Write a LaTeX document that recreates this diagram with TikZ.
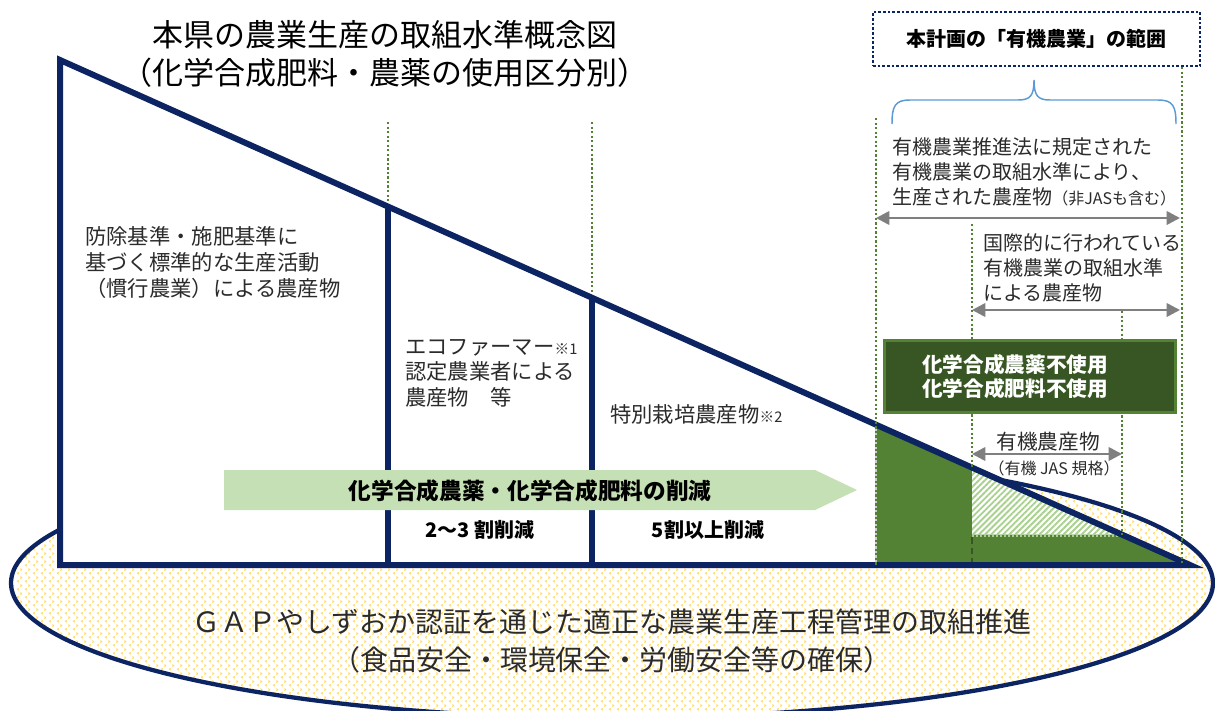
\documentclass[tikz,border=0pt]{standalone}
\usepackage{fontspec}
\setmainfont{Noto Sans CJK JP}
\usetikzlibrary{patterns,patterns.meta,arrows.meta}
\definecolor{navy}{HTML}{0C2462}
\definecolor{lgreen}{HTML}{548235}
\definecolor{dgreen}{HTML}{375623}
\definecolor{pgreen}{HTML}{C5E0B4}
\definecolor{hgreen}{HTML}{A9D18E}
\definecolor{garrow}{HTML}{7F7F7F}
\definecolor{braceblue}{HTML}{5B9BD5}
\definecolor{pyellow}{HTML}{FFD659}
\definecolor{txt}{HTML}{2B2B2B}
\tikzdeclarepattern{
  name=chevrons,
  type=uncolored,
  bottom left={(0pt,0pt)},
  top right={(6pt,6pt)},
  tile size={(6pt,6pt)},
  code={
    \draw[line width=0.75pt] (2.2pt,0.6pt) -- (1.2pt,1.5pt) -- (2.2pt,2.4pt);
    \draw[line width=0.75pt] (3.8pt,3.6pt) -- (4.8pt,4.5pt) -- (3.8pt,5.4pt);
  }
}
\tikzset{
  navyline/.style={navy, line width=4.5pt},
  gdot/.style={lgreen, line width=2pt, dash pattern=on 1.7pt off 1.7pt},
  garr/.style={garrow, line width=2pt, {Triangle[length=10pt,width=10pt]}-{Triangle[length=10pt,width=10pt]}},
  plain/.style={inner sep=0pt, text=txt, font=\fontsize{16}{19.2}\selectfont, align=left, anchor=west},
  rtext/.style={inner sep=0pt, text=txt, font=\fontsize{15}{19}\selectfont, align=left, anchor=west},
  btext/.style={inner sep=0pt, text=black, font=\bfseries\fontsize{15}{18}\selectfont, align=center},
}
\begin{document}
\begin{tikzpicture}[x=0.75pt,y=-0.75pt]
\useasboundingbox (0,0) rectangle (1215,711);
\clip (0,0) rectangle (1215,711);
\fill[white] (0,0) rectangle (1215,711);

% ground ellipse (GAP)
\fill[white] (612,583) ellipse [x radius=601, y radius=135];
\path[pattern={chevrons}, pattern color=pyellow] (612,583) ellipse [x radius=601, y radius=135];
\draw[navy, line width=3.2pt] (612,583) ellipse [x radius=601, y radius=135];

% main triangle
\coordinate (T) at (60,60);
\coordinate (BL) at (60,565);
\coordinate (TIP) at (1190,565);
\fill[white] (T) -- (TIP) -- (BL) -- cycle;

% organic green area
\fill[lgreen] (876,424.7) -- (TIP) -- (876,565) -- cycle;
\draw[gray!40, line width=0.8pt] (876,424.7) -- (876,565);
\fill[white] (972,467.6) -- (1122,534.6) -- (972,534.6) -- cycle;
\path[pattern={Lines[angle=45,distance=3.2pt,line width=1.4pt]}, pattern color=hgreen] (972,467.6) -- (1122,534.6) -- (972,534.6) -- cycle;
\draw[hgreen, line width=1.5pt, dash pattern=on 1.5pt off 1.5pt] (972,536) -- (1122,536);
\draw[dgreen, line width=1.5pt, dash pattern=on 5pt off 3pt] (972,537) -- (972,563) -- (1160,563);

% triangle outline and dividers
\draw[navyline, line join=miter] (BL) -- (T) -- (TIP) -- cycle;
\draw[navyline] (388,206.6) -- (388,565);
\draw[navyline] (592,297.8) -- (592,565);

% dotted guide lines
\draw[gdot] (388,122) -- (388,203);
\draw[gdot] (592,122) -- (592,294);
\draw[gdot] (876,118) -- (876,565);
\draw[gdot] (972,224) -- (972,467);
\draw[gdot] (1122,311) -- (1122,536);
\draw[gdot] (1182,67) -- (1182,565);

% reduction arrow
\fill[pgreen] (224,470) -- (815,470) -- (857,490) -- (815,510) -- (224,510) -- cycle;
\node[btext, font=\bfseries\fontsize{17}{20}\selectfont] (redtxt) at (530,491) {化学合成農薬・化学合成肥料の削減};
\node[btext] (red23) at (480,530) {2〜3 割削減};
\node[btext] (red5) at (708,530) {5割以上削減};

% title
\node[inner sep=0pt, align=center, font=\fontsize{23.25}{28.5}\selectfont] (title) at (385,54) {本県の農業生産の取組水準概念図\\（化学合成肥料・農薬の使用区分別）};

% left texts
\node[plain] (conv) at (85,262.5) {防除基準・施肥基準に\\基づく標準的な生産活動\\（慣行農業）による農産物};
\node[plain] (eco) at (405,373) {エコファーマー{\fontsize{11}{11}\selectfont ※1}\\認定農業者による\\農産物　等};
\node[plain] (spec) at (610,414) {特別栽培農産物{\fontsize{11}{11}\selectfont ※2}};

% scope box and brace
\node[draw=navy, line width=2pt, dash pattern=on 2pt off 1.5pt, minimum width=245.25pt, minimum height=40.5pt, inner sep=0pt, font=\bfseries\fontsize{15}{18}\selectfont] (scope) at (1036.5,39) {本計画の「有機農業」の範囲};
\draw[braceblue, line width=1.1pt] (892,124) .. controls (892,106) and (895,100) .. (910,100) -- (1018,100) .. controls (1030,100) and (1034,96) .. (1034,80)
  .. controls (1034,96) and (1038,100) .. (1050,100) -- (1158,100) .. controls (1173,100) and (1176,106) .. (1176,124);

% right texts and arrows
\node[rtext] (law) at (892,172) {有機農業推進法に規定された\\有機農業の取組水準により、\\生産された農産物{\fontsize{12}{12}\selectfont （非JASも含む）}};
\coordinate (a1l) at (876,218);
\coordinate (a1r) at (1180,218);
\draw[garr] (a1l) -- (a1r);
\node[rtext] (intl) at (983,268) {国際的に行われている\\有機農業の取組水準\\による農産物};
\coordinate (a2l) at (972,310);
\coordinate (a2r) at (1180,310);
\draw[garr] (a2l) -- (a2r);

\node[fill=dgreen, draw=lgreen, line width=2.25pt, minimum width=218.25pt, minimum height=54pt, inner sep=0pt] (nochem) at (1029.5,376) {};
\node[btext, text=white, align=left, font=\bfseries\fontsize{15.5}{18}\selectfont, anchor=west] (nochemtxt) at (922,377) {化学合成農薬不使用\\化学合成肥料不使用};

\node[inner sep=0pt, text=txt, font=\fontsize{15.5}{18}\selectfont] (org) at (1048,442) {有機農産物};
\coordinate (a3l) at (972,454);
\coordinate (a3r) at (1122,454);
\draw[garr] (a3l) -- (a3r);
\node[inner sep=0pt, text=txt, font=\fontsize{12}{14}\selectfont] (orgjas) at (1054,468) {（有機 JAS 規格）};

% bottom GAP text
\node[inner sep=0pt, text=txt, align=center, font=\fontsize{21}{28.5}\selectfont] (gap) at (612,641) {ＧＡＰやしずおか認証を通じた適正な農業生産工程管理の取組推進\\（食品安全・環境保全・労働安全等の確保）};
\end{tikzpicture}
\end{document}
